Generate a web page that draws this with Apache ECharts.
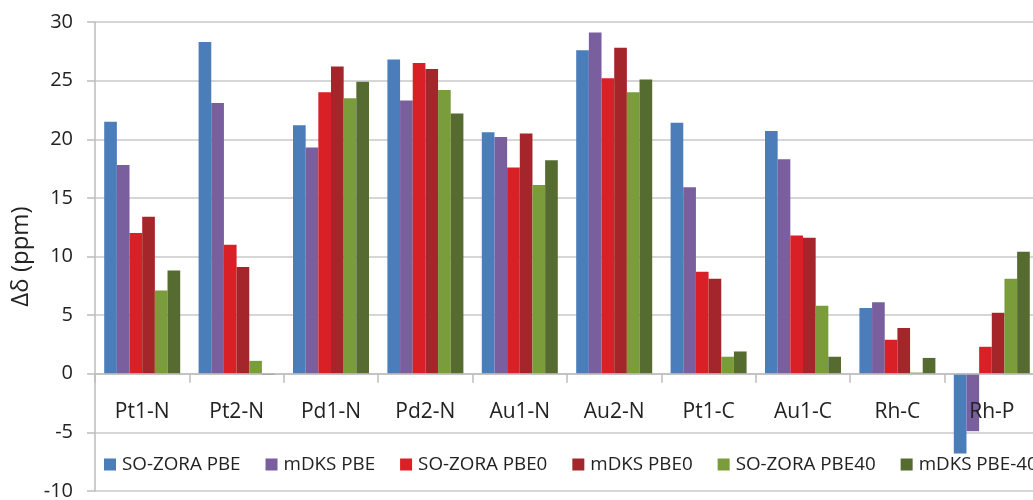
<!DOCTYPE html>
<html>
<head>
<meta charset="utf-8">
<script src="https://cdn.jsdelivr.net/npm/echarts@6/dist/echarts.min.js"></script>
<style>
  html, body { margin: 0; padding: 0; background: #fff; }
  #chart { width: 1033px; height: 500px; }
</style>
</head>
<body>
<div id="chart"></div>
<script>
var categories = ["Pt1-N", "Pt2-N", "Pd1-N", "Pd2-N", "Au1-N", "Au2-N", "Pt1-C", "Au1-C", "Rh-C", "Rh-P"];

var soZoraPbe   = [21.5, 28.3, 21.2, 26.8, 20.6, 27.6, 21.4, 20.7, 5.6, -6.8];
var mdksPbe     = [17.8, 23.1, 19.3, 23.3, 20.2, 29.1, 15.9, 18.3, 6.1, -4.9];
var soZoraPbe0  = [12.0, 11.0, 24.0, 26.5, 17.6, 25.2, 8.7, 11.8, 2.9, 2.3];
var mdksPbe0    = [13.4, 9.1, 26.2, 26.0, 20.5, 27.8, 8.1, 11.6, 3.9, 5.2];
var soZoraPbe40 = [7.1, 1.1, 23.5, 24.2, 16.1, 24.0, 1.45, 5.8, 0.1, 8.1];
var mdksPbe40   = [8.8, -0.1, 24.9, 22.2, 18.2, 25.1, 1.9, 1.45, 1.35, 10.4];

var seriesNames = ["SO-ZORA PBE", "mDKS PBE", "SO-ZORA PBE0", "mDKS PBE0", "SO-ZORA PBE40", "mDKS PBE-40"];
var seriesData = [soZoraPbe, mdksPbe, soZoraPbe0, mdksPbe0, soZoraPbe40, mdksPbe40];
var colors = ["#4a7dba", "#7a5f9e", "#d92027", "#a4262a", "#7b9c3b", "#556b2f"];

var font = "'Open Sans', 'Noto Sans', sans-serif";
var textColor = "#222";

// grid geometry, so the category axis can be lifted onto the zero line
var gridTop = 22, gridBottom = 9, chartHeight = 500;
var yMin = -10, yMax = 30;
var plotHeight = chartHeight - gridTop - gridBottom;
var zeroLift = plotHeight * (0 - yMin) / (yMax - yMin);

var chart = echarts.init(document.getElementById("chart"));

var series = seriesNames.map(function(name, i) {
	return {
		name: name,
		type: "bar",
		data: seriesData[i],
		barGap: 0,
		barCategoryGap: "19.5%",
		itemStyle: { color: colors[i] }
	};
});

var option = {
	animation: false,
	color: colors,
	grid: {
		left: 95,
		right: -6,
		top: gridTop,
		bottom: gridBottom,
		outerBoundsMode: "none",
		containLabel: false
	},
	legend: {
		data: seriesNames,
		left: 104,
		top: 455,
		padding: 0,
		width: 1200,
		itemWidth: 12,
		itemHeight: 12,
		itemGap: 25,
		icon: "rect",
		textStyle: {
			fontFamily: font,
			fontSize: 18.8,
			color: textColor,
			padding: [0, 0, 0, 1]
		}
	},
	xAxis: {
		type: "category",
		data: categories,
		offset: -zeroLift,
		axisLine: { onZero: false, lineStyle: { color: "#bdbdbd", width: 1.5 } },
		axisTick: { show: true, length: 9, lineStyle: { color: "#bdbdbd", width: 1.5 } },
		axisLabel: {
			margin: 28,
			fontFamily: font,
			fontSize: 21,
			color: textColor
		},
		z: 10
	},
	yAxis: {
		type: "value",
		min: yMin,
		max: yMax,
		interval: 5,
		name: "Δδ (ppm)",
		nameLocation: "middle",
		nameGap: 48,
		nameTextStyle: {
			fontFamily: font,
			fontSize: 24,
			color: textColor
		},
		axisLine: { show: true, lineStyle: { color: "#bdbdbd", width: 1.5 } },
		axisTick: { show: true, length: 8, lineStyle: { color: "#bdbdbd", width: 1.5 } },
		axisLabel: {
			margin: 22,
			fontFamily: font,
			fontSize: 20,
			color: textColor
		},
		splitLine: { lineStyle: { color: "#c8c8c8", width: 1.5 } }
	},
	series: series
};

chart.setOption(option);
</script>
</body>
</html>
